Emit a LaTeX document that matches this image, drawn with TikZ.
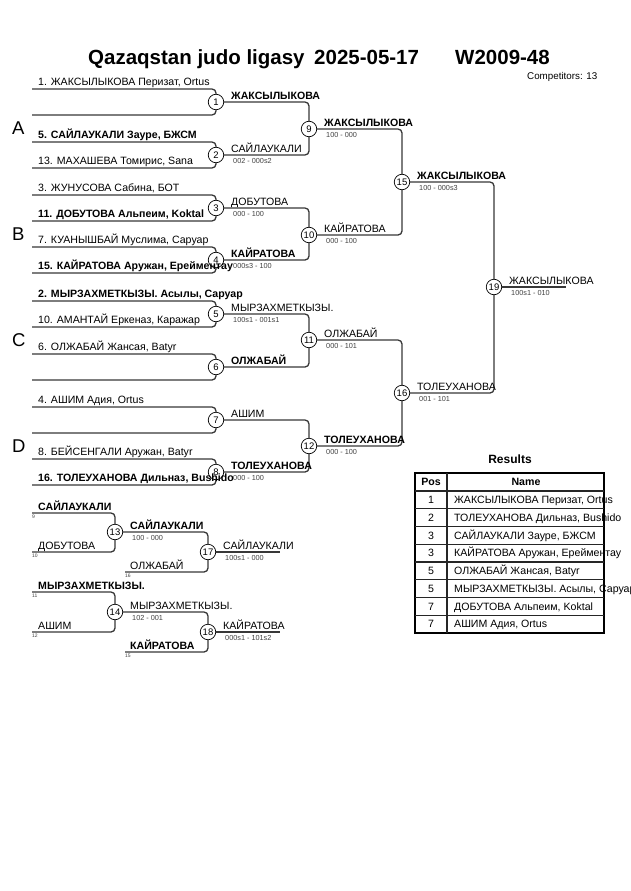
\documentclass[tikz,border=0pt]{standalone}
\usepackage{fontspec}
\setmainfont{Liberation Sans}
\usetikzlibrary{positioning}

\newcommand{\namefont}{\fontsize{10.6}{12}\selectfont}
\newcommand{\scorefont}{\fontsize{7.3}{8}\selectfont}

\tikzset{
  bline/.style={line width=1.3pt, black!78, rounded corners=4pt},
  mcircle/.style={circle, draw, line width=0.7pt, fill=white, minimum size=15.5pt, inner sep=0pt, font=\fontsize{9.5}{10}\selectfont},
  entry/.style={anchor=base west, inner sep=0pt, font=\namefont},
  bentry/.style={entry, font=\namefont\bfseries},
  score/.style={anchor=base west, inner sep=0pt, font=\scorefont, text=black!75},
  seed/.style={anchor=base west, inner sep=0pt, font=\fontsize{5}{6}\selectfont, text=black!75},
  pool/.style={anchor=base west, inner sep=0pt, font=\fontsize{18.5}{20}\selectfont},
  title/.style={anchor=base west, inner sep=0pt, font=\fontsize{20.5}{24}\selectfont\bfseries},
  tline/.style={line width=1.1pt, black!85},
}

\begin{document}
\begin{tikzpicture}[x=1pt,y=-1pt]
\useasboundingbox (0,0) rectangle (630,891);

% header
\node[title] (tq) at (88,65) {Qazaqstan judo ligasy};
\node[title] (td) at (314,65) {2025-05-17};
\node[title] (tw) at (455,65) {W2009-48};
\node[entry, font=\fontsize{9.8}{11}\selectfont] (comp) at (527,79) {Competitors: 13};

% pools
\node[pool] (pa) at (12,134) {A};
\node[pool] (pb) at (12,240) {B};
\node[pool] (pc) at (12,346) {C};
\node[pool] (pd) at (12,452) {D};

% match circles
\foreach \n/\x/\y in {1/216/102, 2/216/155, 3/216/208, 4/216/260,
    5/216/314, 6/216/367, 7/216/420, 8/216/472,
    9/309/129, 10/309/235, 11/309/340, 12/309/446,
    15/402/182, 16/402/393, 19/494/287,
    13/115/532, 14/115/612, 17/208/552, 18/208/632}
  \node[mcircle] (m\n) at (\x,\y) {\n};

% first round
\foreach \n/\ya/\yb in {1/89/115, 2/142/168, 3/195/221, 4/247/273,
    5/301/327, 6/354/380, 7/407/433, 8/459/485}{
  \coordinate (a\n) at (32,\ya);
  \coordinate (b\n) at (32,\yb);
  \draw[bline] (a\n) -| (m\n);
  \draw[bline] (b\n) -| (m\n);
}

% main draw
\draw[bline] (m1) -| (m9);
\draw[bline] (m2) -| (m9);
\draw[bline] (m3) -| (m10);
\draw[bline] (m4) -| (m10);
\draw[bline] (m5) -| (m11);
\draw[bline] (m6) -| (m11);
\draw[bline] (m7) -| (m12);
\draw[bline] (m8) -| (m12);
\draw[bline] (m9) -| (m15);
\draw[bline] (m10) -| (m15);
\draw[bline] (m11) -| (m16);
\draw[bline] (m12) -| (m16);
\draw[bline] (m15) -| (m19);
\draw[bline] (m16) -| (m19);
\coordinate (fin) at (566,287);
\draw[bline] (m19) -- (fin);

% repechage
\coordinate (ra13) at (32,513);
\coordinate (rb13) at (32,552);
\coordinate (rb17) at (125,572);
\coordinate (ra14) at (32,592);
\coordinate (rb14) at (32,632);
\coordinate (rb18) at (125,652);
\coordinate (fin17) at (280,552);
\coordinate (fin18) at (280,632);
\draw[bline] (ra13) -| (m13);
\draw[bline] (rb13) -| (m13);
\draw[bline] (m13) -| (m17);
\draw[bline] (rb17) -| (m17);
\draw[bline] (m17) -- (fin17);
\draw[bline] (ra14) -| (m14);
\draw[bline] (rb14) -| (m14);
\draw[bline] (m14) -| (m18);
\draw[bline] (rb18) -| (m18);
\draw[bline] (m18) -- (fin18);

% competitors
\node[entry] (n1) at (38,85.5) {1. ЖАКСЫЛЫКОВА Перизат, Ortus};
\node[bentry] (n5) at (38,138.5) {5. САЙЛАУКАЛИ Зауре, БЖСМ};
\node[entry] (n13) at (38,164.5) {13. МАХАШЕВА Томирис, Sana};
\node[entry] (n3) at (38,191.5) {3. ЖУНУСОВА Сабина, БОТ};
\node[bentry] (n11) at (38,217.5) {11. ДОБУТОВА Альпеим, Koktal};
\node[entry] (n7) at (38,243.5) {7. КУАНЫШБАЙ Муслима, Саруар};
\node[bentry] (n15) at (38,269.5) {15. КАЙРАТОВА Аружан, Ерейментау};
\node[bentry] (n2) at (38,297.5) {2. МЫРЗАХМЕТКЫЗЫ. Асылы, Саруар};
\node[entry] (n10) at (38,323.5) {10. АМАНТАЙ Еркеназ, Каражар};
\node[entry] (n6) at (38,350.5) {6. ОЛЖАБАЙ Жансая, Batyr};
\node[entry] (n4) at (38,403.5) {4. АШИМ Адия, Ortus};
\node[entry] (n8) at (38,455.5) {8. БЕЙСЕНГАЛИ Аружан, Batyr};
\node[bentry] (n16) at (38,481.5) {16. ТОЛЕУХАНОВА Дильназ, Bushido};

% winners and scores
\foreach \n/\f/\t in {1/\bfseries/ЖАКСЫЛЫКОВА, 2/\mdseries/САЙЛАУКАЛИ,
    3/\mdseries/ДОБУТОВА, 4/\bfseries/КАЙРАТОВА, 5/\mdseries/МЫРЗАХМЕТКЫЗЫ.,
    6/\bfseries/ОЛЖАБАЙ, 7/\mdseries/АШИМ, 8/\bfseries/ТОЛЕУХАНОВА,
    9/\bfseries/ЖАКСЫЛЫКОВА, 10/\mdseries/КАЙРАТОВА, 11/\mdseries/ОЛЖАБАЙ,
    12/\bfseries/ТОЛЕУХАНОВА, 15/\bfseries/ЖАКСЫЛЫКОВА, 16/\mdseries/ТОЛЕУХАНОВА,
    19/\mdseries/ЖАКСЫЛЫКОВА, 13/\bfseries/САЙЛАУКАЛИ, 17/\mdseries/САЙЛАУКАЛИ,
    14/\mdseries/МЫРЗАХМЕТКЫЗЫ., 18/\mdseries/КАЙРАТОВА}
  \node[entry] (w\n) at ([xshift=15pt, yshift=3pt]m\n.center) {\f\t};
\foreach \n/\s in {2/002 - 000s2, 3/000 - 100, 4/000s3 - 100, 5/100s1 - 001s1,
    8/000 - 100, 9/100 - 000, 10/000 - 100, 11/000 - 101, 12/000 - 100,
    15/100 - 000s3, 16/001 - 101, 19/100s1 - 010, 13/100 - 000,
    17/100s1 - 000, 14/102 - 001, 18/000s1 - 101s2}
  \node[score] (s\n) at ([xshift=17pt, yshift=-8.5pt]m\n.center) {\s};

% repechage entries
\node[bentry] (r9) at (38,510) {САЙЛАУКАЛИ};
\node[entry] (r10) at (38,549) {ДОБУТОВА};
\node[entry] (r16) at (130,569) {ОЛЖАБАЙ};
\node[bentry] (r11) at (38,589) {МЫРЗАХМЕТКЫЗЫ.};
\node[entry] (r12) at (38,629) {АШИМ};
\node[bentry] (r15) at (130,649) {КАЙРАТОВА};
\node[seed] (q9) at (32,518.5) {9};
\node[seed] (q10) at (32,557.5) {10};
\node[seed] (q16) at (125,577.5) {16};
\node[seed] (q11) at (32,597.5) {11};
\node[seed] (q12) at (32,637.5) {12};
\node[seed] (q15) at (125,657.5) {15};

% results
\node[anchor=base, inner sep=0pt, font=\fontsize{12}{14}\selectfont\bfseries] (res) at (510,463) {Results};
\draw[line width=1.6pt] (415,473) rectangle (604,633);
\draw[tline] (447,473) -- (447,633);
\foreach \y in {491,508.75,526.5,544.25,562,579.75,597.5,615.25}
  \draw[tline] (415,\y) -- (604,\y);
\node[anchor=base, inner sep=0pt, font=\namefont\bfseries] (hpos) at (431,485.5) {Pos};
\node[anchor=base, inner sep=0pt, font=\namefont\bfseries] (hname) at (526,485.5) {Name};
\foreach \k/\p/\t in {{1/1/ЖАКСЫЛЫКОВА Перизат, Ortus}, {2/2/ТОЛЕУХАНОВА Дильназ, Bushido},
    {3/3/САЙЛАУКАЛИ Зауре, БЖСМ}, {4/3/КАЙРАТОВА Аружан, Ерейментау},
    {5/5/ОЛЖАБАЙ Жансая, Batyr}, {6/5/МЫРЗАХМЕТКЫЗЫ. Асылы, Саруар},
    {7/7/ДОБУТОВА Альпеим, Koktal}, {8/7/АШИМ Адия, Ortus}}{
  \node[anchor=base, inner sep=0pt, font=\namefont] (pos\k) at (431,{491+17.75*\k-5.2}) {\p};
  \node[entry] (nm\k) at (454,{491+17.75*\k-5.2}) {\t};
}
\end{tikzpicture}
\end{document}
